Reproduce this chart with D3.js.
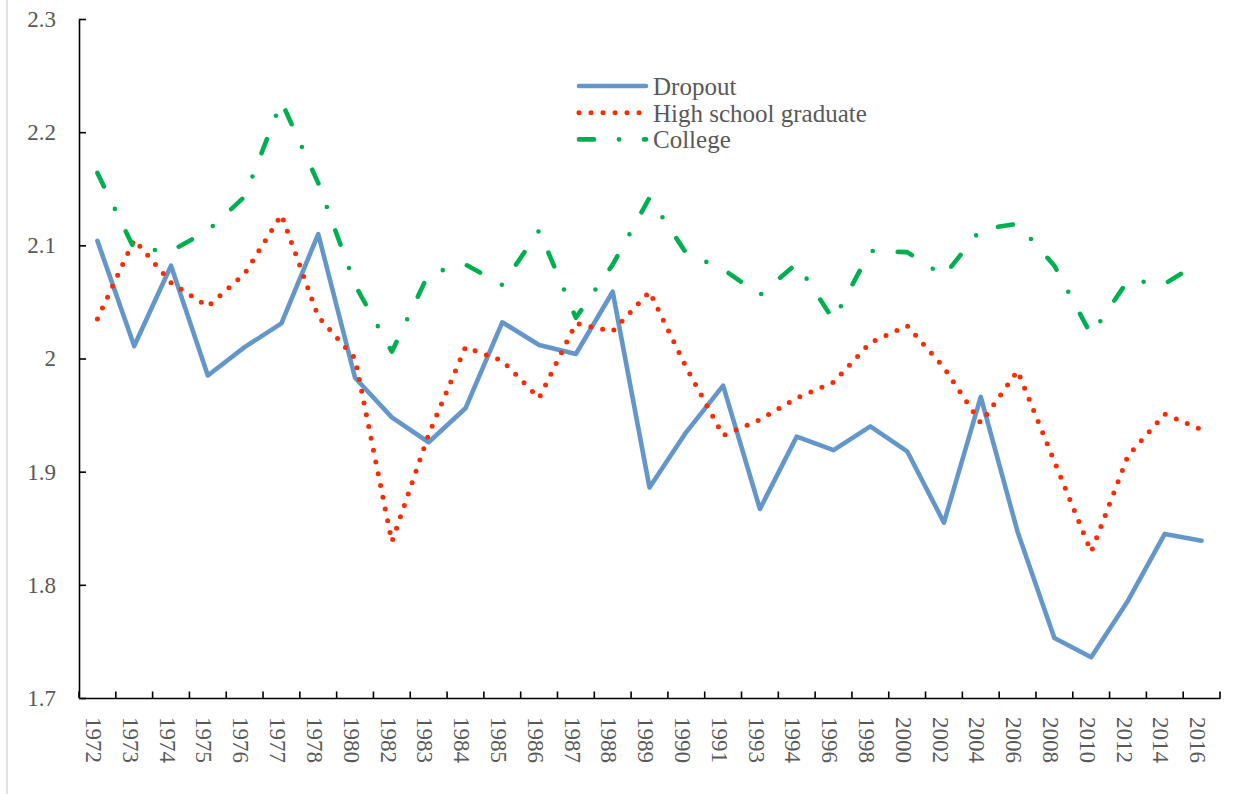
<!DOCTYPE html>
<html>
<head>
<meta charset="utf-8">
<script src="https://cdn.jsdelivr.net/npm/d3@7"></script>
<style>
  body { margin: 0; background: #fff; }
  svg { display: block; }
</style>
</head>
<body>
<div class="chart"></div>
<script>
// categories (x axis)
var years = ["1972", "1973", "1974", "1975", "1976", "1977", "1978", "1980", "1982", "1983",
             "1984", "1985", "1986", "1987", "1988", "1989", "1990", "1991", "1993", "1994",
             "1996", "1998", "2000", "2002", "2004", "2006", "2008", "2010", "2012", "2014", "2016"];

// series values
var dropout = [2.104, 2.011, 2.082, 1.985, 2.010, 2.031, 2.110, 1.983, 1.948, 1.926,
               1.956, 2.032, 2.012, 2.004, 2.059, 1.886, 1.935, 1.976, 1.867, 1.931,
               1.919, 1.940, 1.918, 1.855, 1.966, 1.847, 1.753, 1.736, 1.786, 1.845, 1.839];
var highSchool = [2.035, 2.105, 2.067, 2.046, 2.075, 2.127, 2.037, 2.000, 1.838, 1.933,
                  2.010, 1.998, 1.965, 2.031, 2.024, 2.059, 1.992, 1.932, 1.946, 1.965,
                  1.979, 2.014, 2.029, 1.992, 1.943, 1.989, 1.909, 1.829, 1.914, 1.951, 1.937];
var college = [2.164, 2.097, 2.095, 2.113, 2.143, 2.227, 2.155, 2.065, 2.006, 2.075,
               2.083, 2.065, 2.113, 2.036, 2.083, 2.142, 2.093, 2.079, 2.056, 2.084,
               2.034, 2.095, 2.094, 2.073, 2.114, 2.119, 2.082, 2.021, 2.069, 2.066, 2.086];

// y axis ticks
var yTicks = [1.7, 1.8, 1.9, 2.0, 2.1, 2.2, 2.3];

var seriesNames = ["Dropout", "High school graduate", "College"];

var NS = {};
NS.width = 1252;
NS.height = 794;
NS.left = 79;
NS.right = 1220;
NS.top = 19;
NS.bottom = 698;
NS.textColor = "#595959";
NS.font = "'Liberation Serif', 'Times New Roman', serif";

var styles = [
  {color: "#6396cb", width: 4.6, dash: null},
  {color: "#ff2a00", width: 5, dash: "0 12"},
  {color: "#00b050", width: 4.6, dash: "15 25 0 25"}
];

function makeSVG() {
  var svg = d3.select(".chart")
    .append("svg")
    .attr("width", NS.width)
    .attr("height", NS.height);
  return svg;
}

function main() {
  var svg = makeSVG();

  // faint frame edge on the left
  svg.append("line")
    .attr("x1", 7).attr("x2", 7)
    .attr("y1", 0).attr("y2", NS.height)
    .attr("stroke", "#d9d9d9")
    .attr("stroke-width", 1.5);

  var x = d3.scaleBand().domain(years).range([NS.left, NS.right]);
  var y = d3.scaleLinear().domain([1.7, 2.3]).range([NS.bottom, NS.top]);

  // y axis, ticks pointing inward
  var yAxis = d3.axisLeft(y)
    .tickValues(yTicks)
    .tickSizeInner(-7)
    .tickSizeOuter(0)
    .tickPadding(23)
    .tickFormat(function(d) { return d3.format(".1f")(d).replace(".0", ""); });

  var gy = svg.append("g")
    .attr("transform", "translate(" + NS.left + ",0)")
    .call(yAxis);
  gy.select(".domain").attr("stroke", "#000").attr("stroke-width", 1.6);
  gy.selectAll(".tick line").attr("stroke", "#000").attr("stroke-width", 1.6);
  gy.selectAll("text")
    .attr("fill", NS.textColor)
    .style("font-family", NS.font)
    .style("font-size", "23px");

  // x axis: labels at band centres, ticks at band edges
  var xAxis = d3.axisBottom(x).tickSizeInner(0).tickSizeOuter(0);
  var gx = svg.append("g")
    .attr("transform", "translate(0," + NS.bottom + ")")
    .call(xAxis);
  gx.select(".domain").attr("stroke", "#000").attr("stroke-width", 1.6);
  gx.selectAll("text")
    .attr("transform", "rotate(90)")
    .attr("x", 19)
    .attr("y", 3.5)
    .attr("dy", "0.34em")
    .attr("text-anchor", "start")
    .attr("fill", NS.textColor)
    .style("font-family", NS.font)
    .style("font-size", "23px");

  var edges = years.map(function(d) { return x(d); }).concat([NS.right]);
  gx.selectAll(".edge")
    .data(edges)
    .enter().append("line")
    .attr("class", "edge")
    .attr("x1", function(d) { return d; })
    .attr("x2", function(d) { return d; })
    .attr("y1", 0)
    .attr("y2", -6.5)
    .attr("stroke", "#000")
    .attr("stroke-width", 1.6);

  // lines
  var allSeries = [dropout, highSchool, college];
  var line = d3.line()
    .x(function(d, i) { return x(years[i]) + x.bandwidth() / 2; })
    .y(function(d) { return y(d); });

  svg.append("g")
    .attr("class", "lines")
    .selectAll("path")
    .data(allSeries)
    .enter().append("path")
    .attr("d", function(d) { return line(d); })
    .attr("fill", "none")
    .attr("stroke", function(d, i) { return styles[i].color; })
    .attr("stroke-width", function(d, i) { return styles[i].width; })
    .attr("stroke-dasharray", function(d, i) { return styles[i].dash; })
    .attr("stroke-linecap", "round")
    .attr("stroke-linejoin", "round");

  // legend
  var legend = svg.append("g")
    .attr("class", "legend")
    .attr("transform", "translate(579,86)");
  var row = legend.selectAll(".row")
    .data(seriesNames)
    .enter().append("g")
    .attr("class", "row")
    .attr("transform", function(d, i) { return "translate(0," + (i * 26.7) + ")"; });
  row.append("line")
    .attr("x1", 0).attr("x2", 67)
    .attr("y1", 0).attr("y2", 0)
    .attr("stroke", function(d, i) { return styles[i].color; })
    .attr("stroke-width", function(d, i) { return styles[i].width; })
    .attr("stroke-dasharray", function(d, i) { return styles[i].dash; })
    .attr("stroke-linecap", "round");
  row.append("text")
    .attr("x", 74)
    .attr("dy", "0.36em")
    .attr("fill", NS.textColor)
    .style("font-family", NS.font)
    .style("font-size", "25px")
    .text(function(d) { return d; });
}

main();
</script>
</body>
</html>
